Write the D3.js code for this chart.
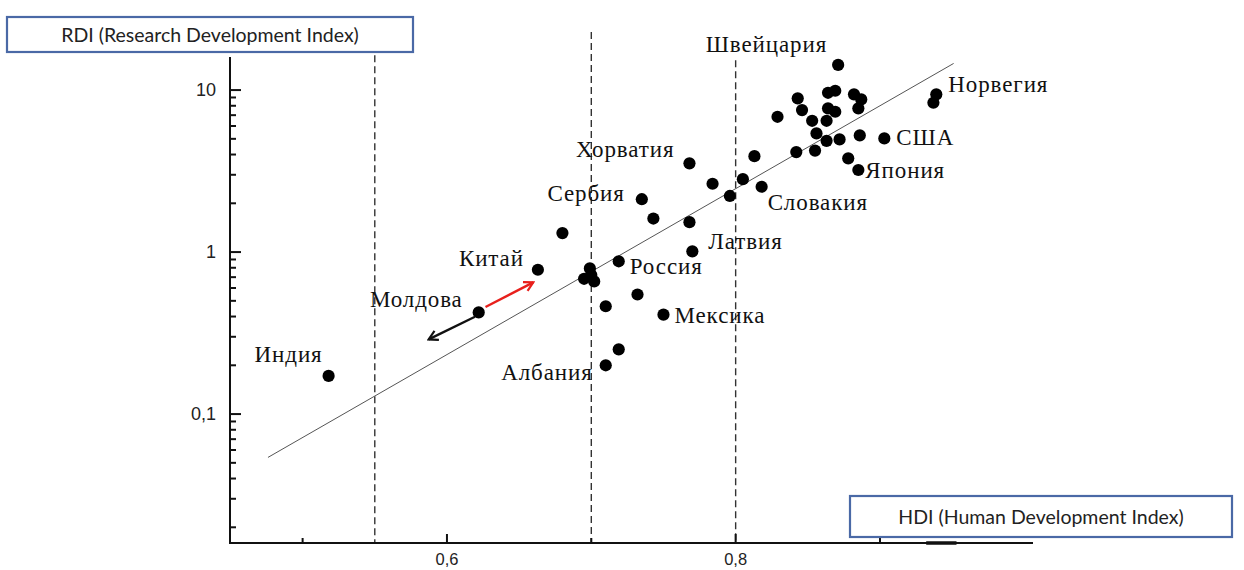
<!DOCTYPE html>
<html>
<head>
<meta charset="utf-8">
<script src="https://cdn.jsdelivr.net/npm/d3@7"></script>
<style>
  body { margin: 0; background: #fff; }
  svg { display: block; }
</style>
</head>
<body>
<div id="vizContainer"></div>
<script>
// HDI / RDI values per country
const hdi = [0.518, 0.622, 0.663, 0.680, 0.699, 0.695, 0.702, 0.700, 0.719, 0.732,
             0.710, 0.750, 0.719, 0.710, 0.735, 0.743, 0.768, 0.770, 0.768, 0.784,
             0.796, 0.805, 0.818, 0.813, 0.842, 0.855, 0.829, 0.856, 0.863, 0.872,
             0.886, 0.903, 0.878, 0.885, 0.853, 0.863, 0.843, 0.846, 0.864, 0.869,
             0.864, 0.869, 0.871, 0.882, 0.887, 0.885, 0.939, 0.937];
const rdi = [0.172, 0.424, 0.778, 1.31, 0.793, 0.684, 0.659, 0.721, 0.877, 0.547,
             0.463, 0.411, 0.251, 0.200, 2.12, 1.61, 1.53, 1.01, 3.53, 2.64,
             2.22, 2.82, 2.53, 3.91, 4.14, 4.23, 6.84, 5.40, 4.86, 4.96,
             5.25, 5.03, 3.79, 3.21, 6.46, 6.46, 8.89, 7.52, 7.71, 7.35,
             9.62, 9.90, 14.3, 9.41, 8.76, 7.71, 9.41, 8.35];

// country names and index of the point they belong to
const labelNames = ["Индия", "Молдова", "Китай", "Россия", "Мексика", "Албания", "Сербия",
                    "Латвия", "Хорватия", "Словакия", "США", "Япония", "Швейцария", "Норвегия"];
const labelPoint = [0, 1, 2, 8, 11, 13, 14, 17, 18, 22, 31, 33, 42, 46];

// trend line end points
const trendHdi = [0.476, 0.951];
const trendRdi = [0.054, 14.6];

// dashed HDI thresholds and how high each one goes
const thresholdHdi = [0.55, 0.70, 0.80];
const thresholdTop = [16.4, 22.8, 15.3];

// arrows from Moldova: [hdi0, rdi0, hdi1, rdi1]
const arrowRed = [0.6267, 0.458, 0.6598, 0.650];
const arrowBlack = [0.6194, 0.399, 0.5873, 0.289];

const xMajor = [0.6, 0.8];
const xMinor = [0.5, 0.7, 0.9];
const yMajor = [0.1, 1, 10];
const yMajorText = ["0,1", "1", "10"];

const width = 1244, height = 570;

const svg = d3.select("#vizContainer").append("svg")
  .attr("width", width).attr("height", height);

const x = d3.scaleLinear().domain([0.449, 1.006]).range([229, 1033]);
const y = d3.scaleLog().domain([0.016, 16]).range([543, 57]);

// label layout: offset from the point, and anchor
const labelLayout = {
  "Индия":     { dx: -6,  dy: -14, a: "end" },
  "Молдова":   { dx: -16, dy: -5,  a: "end" },
  "Китай":     { dx: -14, dy: -4,  a: "end" },
  "Россия":    { dx: 11,  dy: 13,  a: "start" },
  "Мексика":   { dx: 11,  dy: 8,   a: "start" },
  "Албания":   { dx: -13, dy: 15,  a: "end" },
  "Сербия":    { dx: -17, dy: 2,   a: "end" },
  "Латвия":    { dx: 16,  dy: -2,  a: "start" },
  "Хорватия":  { dx: -15, dy: -6,  a: "end" },
  "Словакия":  { dx: 6,   dy: 23,  a: "start" },
  "США":       { dx: 12,  dy: 7,   a: "start" },
  "Япония":    { dx: 7,   dy: 8,   a: "start" },
  "Швейцария": { dx: -11, dy: -13, a: "end" },
  "Норвегия":  { dx: 12,  dy: -2,  a: "start" }
};

// dashed threshold lines
svg.selectAll(".threshold")
  .data(thresholdHdi)
  .enter()
  .append("line")
  .attr("x1", d => x(d)).attr("x2", d => x(d))
  .attr("y1", (d, i) => y(thresholdTop[i]))
  .attr("y2", y(0.016))
  .attr("stroke", "#333")
  .attr("stroke-width", 1.4)
  .attr("stroke-dasharray", "7,4");

// trend line
svg.append("line")
  .attr("x1", x(trendHdi[0])).attr("y1", y(trendRdi[0]))
  .attr("x2", x(trendHdi[1])).attr("y2", y(trendRdi[1]))
  .attr("stroke", "#555")
  .attr("stroke-width", 1);

// y axis
svg.append("line")
  .attr("x1", 230).attr("x2", 230)
  .attr("y1", y(16)).attr("y2", y(0.016))
  .attr("stroke", "#111").attr("stroke-width", 2);

const yMinor = [];
[0.01, 0.1, 1].forEach(dec => {
  for (let k = 2; k <= 9; k++) {
    const v = +(dec * k).toPrecision(3);
    if (v >= 0.016 && v <= 16) yMinor.push(v);
  }
});

svg.selectAll(".ytick-minor")
  .data(yMinor).enter().append("line")
  .attr("x1", 230).attr("x2", 236)
  .attr("y1", d => y(d)).attr("y2", d => y(d))
  .attr("stroke", "#111").attr("stroke-width", 2);

svg.selectAll(".ytick-major")
  .data(yMajor).enter().append("line")
  .attr("x1", 230).attr("x2", 241)
  .attr("y1", d => y(d)).attr("y2", d => y(d))
  .attr("stroke", "#111").attr("stroke-width", 2);

svg.selectAll(".ylabel")
  .data(yMajor).enter().append("text")
  .attr("x", 216)
  .attr("y", d => y(d))
  .attr("dy", "0.34em")
  .attr("text-anchor", "end")
  .attr("font-family", "Liberation Sans, Arial, sans-serif")
  .attr("font-size", 18)
  .attr("fill", "#222")
  .text((d, i) => yMajorText[i]);

// x axis
svg.append("line")
  .attr("x1", x(0.449)).attr("x2", x(1.006))
  .attr("y1", 543).attr("y2", 543)
  .attr("stroke", "#111").attr("stroke-width", 2);

svg.append("line")
  .attr("x1", x(0.932)).attr("x2", x(0.953))
  .attr("y1", 543).attr("y2", 543)
  .attr("stroke", "#111").attr("stroke-width", 3.5);

svg.selectAll(".xtick-minor")
  .data(xMinor).enter().append("line")
  .attr("x1", d => x(d)).attr("x2", d => x(d))
  .attr("y1", 543).attr("y2", 538)
  .attr("stroke", "#111").attr("stroke-width", 2);

svg.selectAll(".xtick-major")
  .data(xMajor).enter().append("line")
  .attr("x1", d => x(d)).attr("x2", d => x(d))
  .attr("y1", 543).attr("y2", 534)
  .attr("stroke", "#111").attr("stroke-width", 2);

svg.selectAll(".xlabel")
  .data(xMajor).enter().append("text")
  .attr("x", d => x(d))
  .attr("y", 565)
  .attr("text-anchor", "middle")
  .attr("font-family", "Liberation Sans, Arial, sans-serif")
  .attr("font-size", 16.5)
  .attr("fill", "#222")
  .text(d => String(d).replace(".", ","));

// arrow markers
const defs = svg.append("defs");
[["arrRed", "#e8201c"], ["arrBlack", "#111"]].forEach(([id, col]) => {
  defs.append("marker")
    .attr("id", id)
    .attr("viewBox", "0 0 12 12")
    .attr("refX", 10).attr("refY", 6)
    .attr("markerWidth", 12).attr("markerHeight", 12)
    .attr("markerUnits", "userSpaceOnUse")
    .attr("orient", "auto")
    .append("path")
    .attr("d", "M1,1 L10,6 L1,11")
    .attr("fill", "none")
    .attr("stroke", col)
    .attr("stroke-width", 2.2);
});

svg.append("line")
  .attr("x1", x(arrowRed[0])).attr("y1", y(arrowRed[1]))
  .attr("x2", x(arrowRed[2])).attr("y2", y(arrowRed[3]))
  .attr("stroke", "#e8201c").attr("stroke-width", 2.4)
  .attr("marker-end", "url(#arrRed)");

svg.append("line")
  .attr("x1", x(arrowBlack[0])).attr("y1", y(arrowBlack[1]))
  .attr("x2", x(arrowBlack[2])).attr("y2", y(arrowBlack[3]))
  .attr("stroke", "#111").attr("stroke-width", 2.4)
  .attr("marker-end", "url(#arrBlack)");

// points
svg.selectAll(".pt")
  .data(hdi).enter().append("circle")
  .attr("cx", d => x(d))
  .attr("cy", (d, i) => y(rdi[i]))
  .attr("r", 6.1)
  .attr("fill", "#000");

// country labels
svg.selectAll(".country")
  .data(labelNames).enter().append("text")
  .attr("x", (d, i) => x(hdi[labelPoint[i]]) + labelLayout[d].dx)
  .attr("y", (d, i) => y(rdi[labelPoint[i]]) + labelLayout[d].dy)
  .attr("text-anchor", d => labelLayout[d].a)
  .attr("font-family", "Liberation Serif, Times New Roman, serif")
  .attr("font-size", 23)
  .attr("letter-spacing", 0.9)
  .attr("fill", "#111")
  .text(d => d);

// axis title boxes
function titleBox(x0, y0, w, h, label) {
  svg.append("rect")
    .attr("x", x0).attr("y", y0).attr("width", w).attr("height", h)
    .attr("fill", "#fff")
    .attr("stroke", "#4a69a6")
    .attr("stroke-width", 2.2);
  svg.append("text")
    .attr("x", x0 + w / 2).attr("y", y0 + h / 2)
    .attr("dy", "0.36em")
    .attr("text-anchor", "middle")
    .attr("font-family", "Lato, Open Sans, sans-serif")
    .attr("font-size", 19.5)
    .attr("fill", "#222")
    .text(label);
}
titleBox(7, 17, 406, 35, "RDI (Research Development Index)");
titleBox(850, 496, 382, 41, "HDI (Human Development Index)");
</script>
</body>
</html>
